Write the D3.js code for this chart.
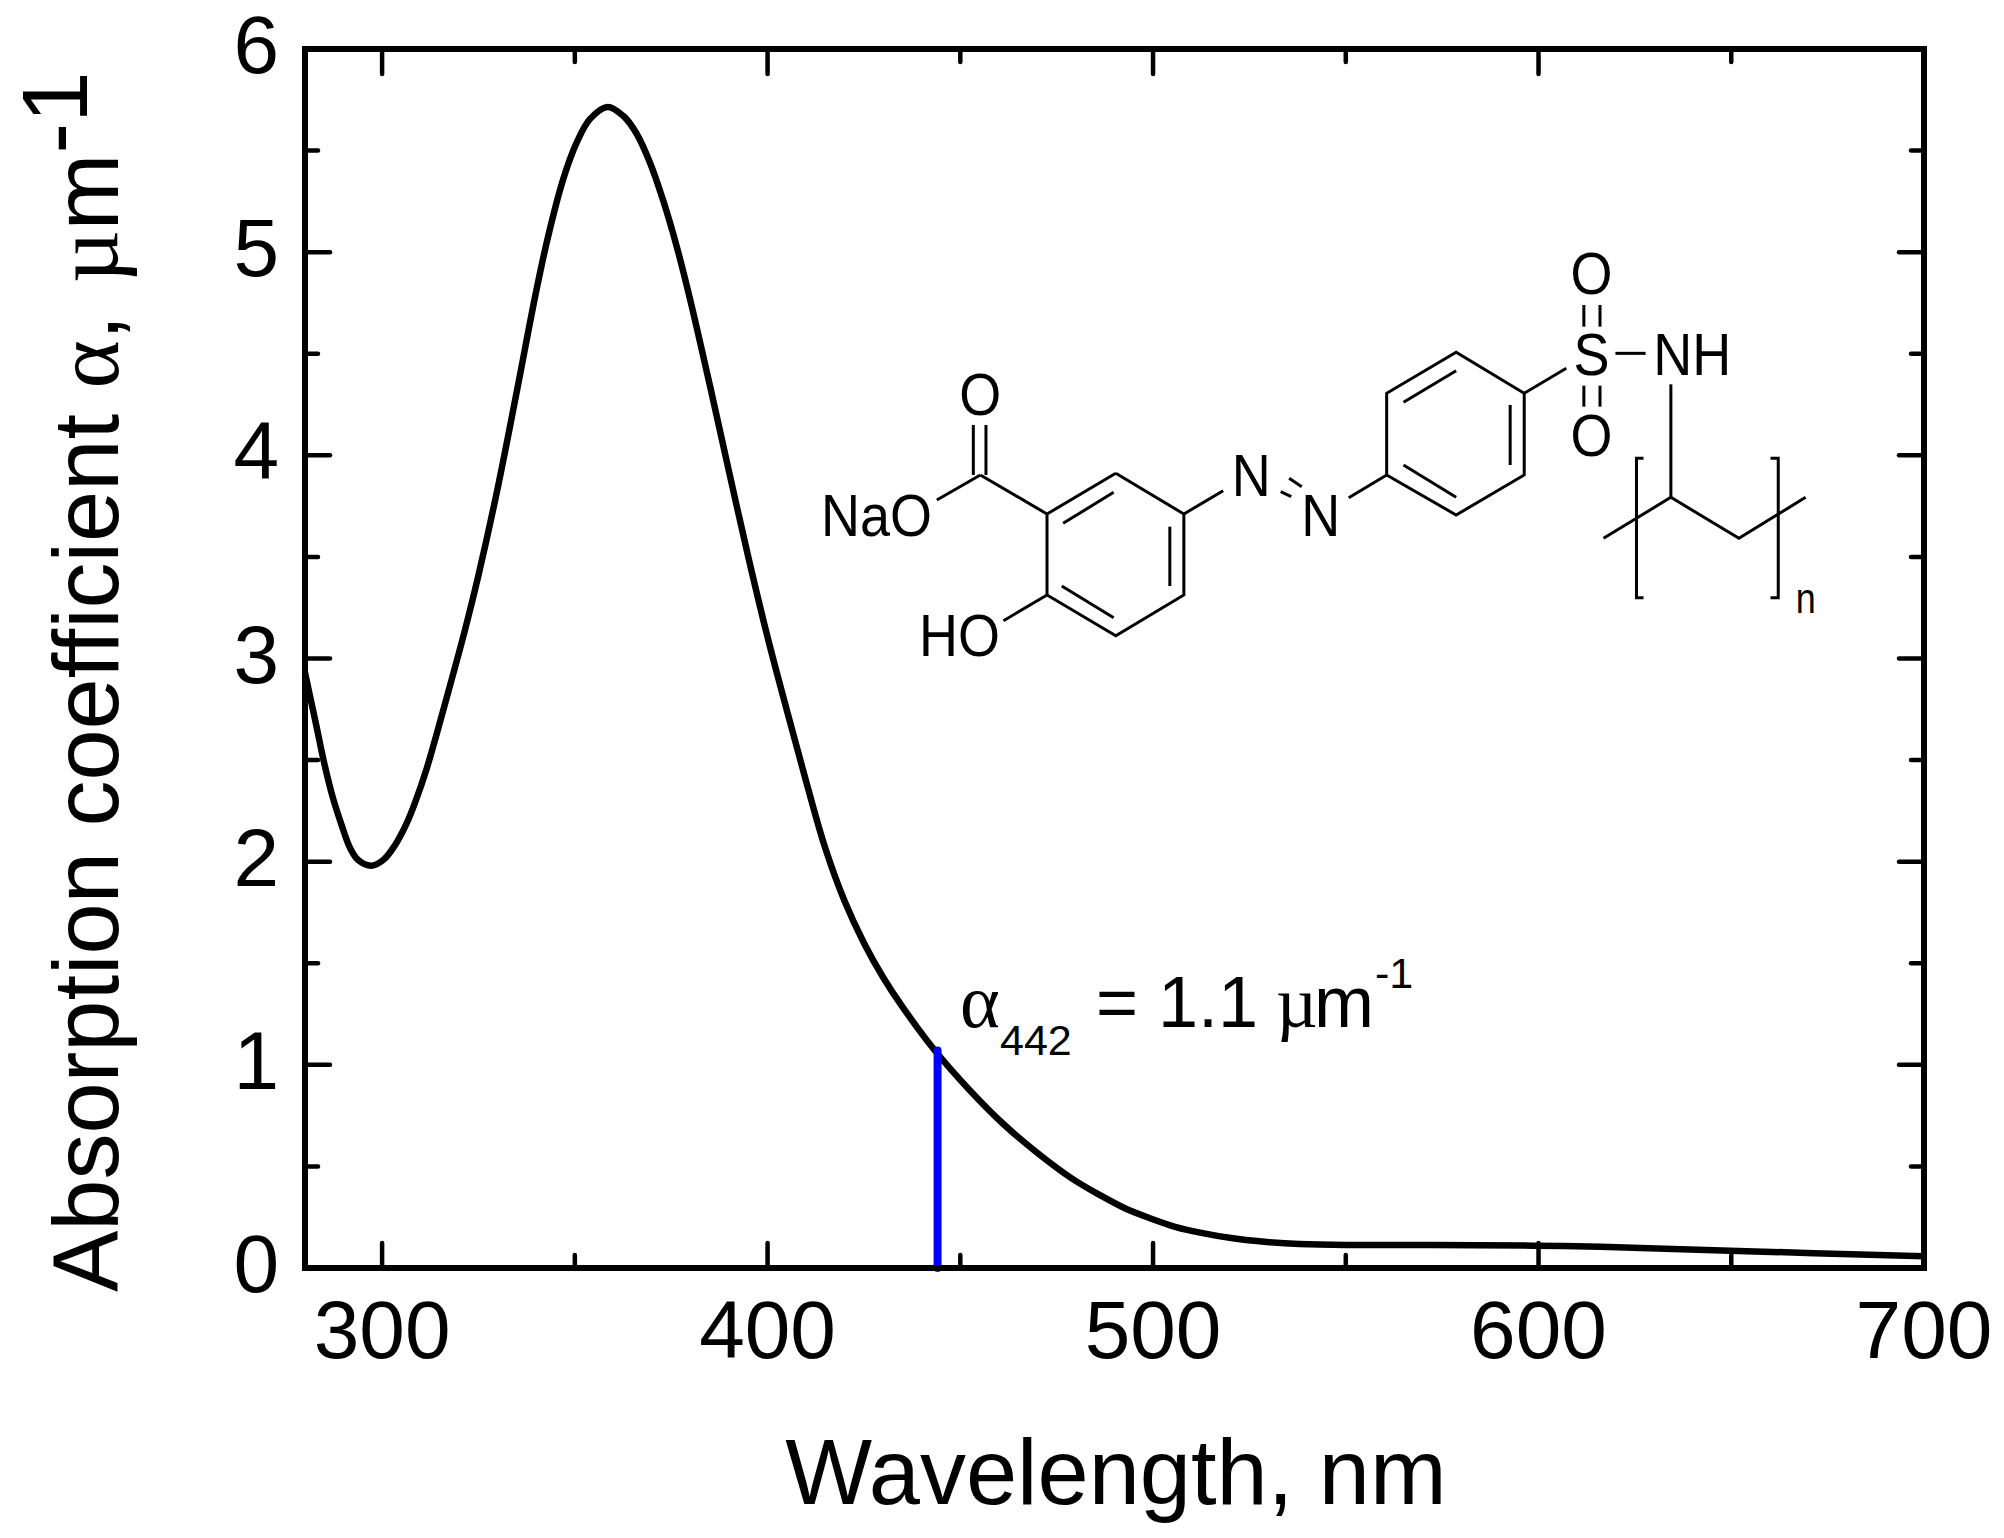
<!DOCTYPE html>
<html>
<head>
<meta charset="utf-8">
<script src="https://cdn.jsdelivr.net/npm/d3@7"></script>
<style>
  html, body { margin: 0; padding: 0; background: #fff; }
  svg { display: block; }
  text { font-family: "Liberation Sans", Arial, sans-serif; fill: #000; }
  .serif { font-family: "Liberation Serif", serif; }
  .axis path { stroke: #000; stroke-width: 6; fill: none; stroke-linecap: square; }
  .axis line { stroke: #000; stroke-width: 4.5; stroke-linecap: round; }
  .axis text { font-size: 82px; }
  .bond { stroke: #000; stroke-width: 3; fill: none; }
</style>
</head>
<body>
<div id="viz"></div>
<script>
// values
var wavelength = [280, 283, 285.2, 287.3, 289.5, 291.7, 293.8, 297.1, 300.3, 303.3, 306.4, 308.5, 311.6, 316.8, 321.5, 325, 330, 335, 340, 343.1, 347, 350.5, 353.9, 358.5, 362.6, 366, 369.5, 372.9, 376.4, 380, 385.2, 390, 395, 400, 405, 410, 415, 420, 425, 430, 435, 443.3, 452.2, 461.1, 470.1, 479, 486.2, 492.7, 499.2, 505.7, 512.2, 520.7, 529.5, 538, 550.2, 572.6, 598.5, 616, 649.7, 700];
var alpha = [2.93, 2.664, 2.467, 2.31, 2.18, 2.067, 2.008, 1.98, 2.008, 2.08, 2.19, 2.288, 2.46, 2.81, 3.14, 3.41, 3.84, 4.32, 4.81, 5.08, 5.36, 5.54, 5.655, 5.715, 5.67, 5.584, 5.44, 5.255, 5.03, 4.76, 4.33, 3.92, 3.5, 3.105, 2.745, 2.395, 2.065, 1.805, 1.6, 1.43, 1.285, 1.073, 0.88, 0.71, 0.565, 0.44, 0.359, 0.294, 0.245, 0.203, 0.174, 0.146, 0.128, 0.118, 0.113, 0.113, 0.11, 0.105, 0.085, 0.058];

var xMajor = [300, 400, 500, 600, 700];
var xMinor = [350, 450, 550, 650];
var yMajor = [0, 1, 2, 3, 4, 5, 6];
var yMinor = [0.5, 1.5, 2.5, 3.5, 4.5, 5.5];

var markerWavelength = 444.1;
var markerAlpha = 1.07;

// structure drawing, in its own local units
var bonds = [
    [[450,730],[547,852],[547,1095],[450,1217],[352,1095],[352,852],[450,730]],
    [[375,880],[447,787]], [[527,890],[527,1068]], [[373,1068],[447,1163]],
    [[352,852],[257,735]], [[247,585],[247,735]], [[265,585],[265,735]], [[257,735],[195,810]],
    [[352,1095],[290,1172]],
    [[547,852],[603,782]], [[685,785],[700,800]], [[697,745],[715,770]], [[782,803],[836,735]],
    [[836,735],[935,855],[1032,735],[1032,490],[935,367],[836,490],[836,735]],
    [[860,705],[935,802]], [[1012,525],[1012,705]], [[860,517],[935,422]],
    [[1032,490],[1092,415]], [[1162,370],[1205,370]],
    [[1117,225],[1117,290]], [[1140,225],[1140,290]], [[1117,467],[1117,530]], [[1140,467],[1140,530]],
    [[1241,463],[1241,802]], [[1145,925],[1241,802],[1338,925],[1433,802]],
    [[1202,685],[1192,685],[1192,1103],[1202,1103]], [[1383,685],[1394,685],[1394,1103],[1383,1103]]
];
var atoms = [
    ['O', 257, 555, 'middle'], ['NaO', 188, 918, 'end'], ['HO', 285, 1278, 'end'],
    ['N', 643, 798, 'middle'], ['N', 742, 918, 'middle'],
    ['S', 1128, 436, 'middle'], ['NH', 1216, 435, 'start'],
    ['O', 1128, 193, 'middle'], ['O', 1128, 678, 'middle']
];

var width = 2004, height = 1538;
var x = d3.scaleLinear().domain([280, 700]).range([305, 1924]);
var y = d3.scaleLinear().domain([0, 6]).range([1268, 49]);

var svg = d3.select('#viz').append('svg').attr('id', 'chart').attr('width', width).attr('height', height);

var data = wavelength.map(function(w, i) { return [w, alpha[i]]; });
var line = d3.line().x(d => x(d[0])).y(d => y(d[1])).curve(d3.curveCatmullRom.alpha(0.5));

svg.append('path').datum(data).attr('d', line)
    .attr('fill', 'none').attr('stroke', '#000').attr('stroke-width', 6.5);

svg.append('line')
    .attr('x1', x(markerWavelength)).attr('x2', x(markerWavelength))
    .attr('y1', y(0)).attr('y2', y(markerAlpha))
    .attr('stroke', '#0000ff').attr('stroke-width', 8).attr('stroke-linecap', 'round');

// frame and ticks
function minorTicks(axisFn, scale, values, pos) {
    svg.append('g').attr('class', 'axis').attr('transform', pos)
        .call(axisFn(scale).tickValues(values).tickSize(-13).tickFormat('').offset(0))
        .select('.domain').remove();
}

var xb = svg.append('g').attr('class', 'axis').attr('transform', 'translate(0,' + y(0) + ')')
    .call(d3.axisBottom(x).tickValues(xMajor).tickSizeInner(-25).tickSizeOuter(0).offset(0));
xb.selectAll('text').attr('y', 90).attr('dy', 0);

svg.append('g').attr('class', 'axis').attr('transform', 'translate(0,' + y(6) + ')')
    .call(d3.axisTop(x).tickValues(xMajor.slice(0, 4)).tickSizeInner(-25).tickSizeOuter(0).tickFormat('').offset(0));

var yl = svg.append('g').attr('class', 'axis').attr('transform', 'translate(' + x(280) + ',0)')
    .call(d3.axisLeft(y).tickValues(yMajor).tickSizeInner(-25).tickSizeOuter(0).tickFormat(d3.format('d')).offset(0));
yl.selectAll('text').attr('x', -26).attr('dy', 24);

svg.append('g').attr('class', 'axis').attr('transform', 'translate(' + x(700) + ',0)')
    .call(d3.axisRight(y).tickValues(yMajor).tickSizeInner(-25).tickSizeOuter(0).tickFormat('').offset(0));

minorTicks(d3.axisBottom, x, xMinor, 'translate(0,' + y(0) + ')');
minorTicks(d3.axisTop, x, xMinor, 'translate(0,' + y(6) + ')');
minorTicks(d3.axisLeft, y, yMinor, 'translate(' + x(280) + ',0)');
minorTicks(d3.axisRight, y, yMinor, 'translate(' + x(700) + ',0)');

// axis titles
svg.append('text').attr('x', 1116).attr('y', 1504).attr('text-anchor', 'middle')
    .attr('font-size', 92).text('Wavelength, nm');

var yTitle = svg.append('text').attr('transform', 'translate(118,1292) rotate(-90)').attr('font-size', 92);
yTitle.append('tspan').text('Absorption coefficient ');
yTitle.append('tspan').attr('class', 'serif').text('\u03b1');
yTitle.append('tspan').text(',  ');
yTitle.append('tspan').attr('class', 'serif').attr('dx', 6).text('\u00b5');
yTitle.append('tspan').text('m');
yTitle.append('tspan').attr('dy', -31).text('-1');

// annotation
svg.append('text').attr('class', 'serif').attr('x', 960).attr('y', 1027).attr('font-size', 76).text('\u03b1');
svg.append('text').attr('x', 1000).attr('y', 1055).attr('font-size', 43).text('442');
svg.append('text').attr('x', 1096).attr('y', 1027).attr('font-size', 72).text('= 1.1');
svg.append('text').attr('class', 'serif').attr('x', 1276).attr('y', 1027).attr('font-size', 72).text('\u00b5');
svg.append('text').attr('x', 1314).attr('y', 1027).attr('font-size', 72).text('m');
svg.append('text').attr('x', 1375).attr('y', 988).attr('font-size', 43).text('-1');

// structure
var molX = d3.scaleLinear().domain([0, 1100]).range([800, 800 + 1100 / 1.425]);
var molY = d3.scaleLinear().domain([0, 1350]).range([230, 680]);
var bondLine = d3.line().x(d => molX(d[0])).y(d => molY(d[1]));
var mol = svg.append('g').attr('id', 'structure');
mol.selectAll('path').data(bonds).enter().append('path').attr('class', 'bond').attr('d', bondLine);
mol.selectAll('text').data(atoms).enter().append('text')
    .attr('transform', d => 'translate(' + molX(d[1]) + ',' + molY(d[2]) + ') scale(1,1.1)')
    .attr('text-anchor', d => d[3]).attr('font-size', 54).text(d => d[0]);
mol.append('text').attr('transform', 'translate(' + molX(1419) + ',' + molY(1150) + ') scale(1,1.2)')
    .attr('font-size', 36).text('n');
</script>
</body>
</html>
